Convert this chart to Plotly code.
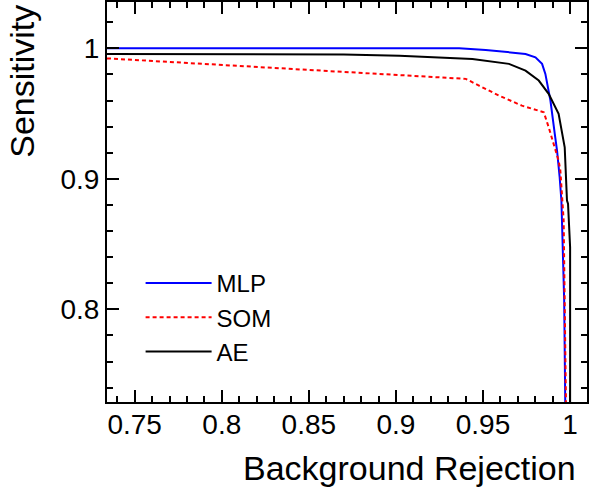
import plotly.graph_objects as go

# ---- data ----
mlp_x = [0.7341, 0.9363, 0.9515, 0.9649, 0.9744, 0.9801, 0.9839, 0.9858, 0.9873,
         0.9887, 0.9912, 0.9925, 0.9940, 0.9950, 0.9955, 0.9966, 0.9972, 0.9974]
mlp_y = [1.0000, 1.0000, 0.9988, 0.9969, 0.9957, 0.9931, 0.9881, 0.9804, 0.9701,
         0.9600, 0.9345, 0.9217, 0.9012, 0.8834, 0.8600, 0.8070, 0.7300, 0.7000]

som_x = [0.7341, 0.9020, 0.9401, 0.9477, 0.9592, 0.9723, 0.9849, 0.9877, 0.9906,
         0.9934, 0.9944, 0.9963, 0.9976, 0.9978]
som_y = [0.9923, 0.9799, 0.9766, 0.9714, 0.9638, 0.9561, 0.9510, 0.9395, 0.9268,
         0.9140, 0.9063, 0.8680, 0.7300, 0.7000]

ae_x = [0.7341, 0.8700, 0.9020, 0.9439, 0.9649, 0.9744, 0.9820, 0.9877, 0.9934,
        0.9969, 0.9982, 0.9988, 1.0000, 1.0000]
ae_y = [0.9957, 0.9952, 0.9944, 0.9919, 0.9881, 0.9829, 0.9753, 0.9651, 0.9498,
        0.9242, 0.8834, 0.8810, 0.8476, 0.7000]

x_ticks = [0.75, 0.8, 0.85, 0.9, 0.95, 1.0]
x_tick_labels = ["0.75", "0.8", "0.85", "0.9", "0.95", "1"]
y_ticks = [0.8, 0.9, 1.0]
y_tick_labels = ["0.8", "0.9", "1"]

FONT = "Liberation Sans, Arial, Helvetica, sans-serif"

fig = go.Figure()
fig.add_trace(go.Scatter(x=mlp_x, y=mlp_y, mode="lines", name="MLP",
                         line=dict(color="#0000ff", width=2)))
fig.add_trace(go.Scatter(x=som_x, y=som_y, mode="lines", name="SOM",
                         line=dict(color="#ff0000", width=2, dash="4px,3px")))
fig.add_trace(go.Scatter(x=ae_x, y=ae_y, mode="lines", name="AE",
                         line=dict(color="#000000", width=2)))

axis_common = dict(
    automargin=False,
    showgrid=False, zeroline=False, showline=True, linecolor="black", linewidth=2,
    mirror="ticks", ticks="inside", ticklen=12, tickwidth=2, tickcolor="black",
    tickfont=dict(family=FONT, size=28, color="black"),
)

fig.update_xaxes(range=[0.7341, 1.0097], tickvals=x_ticks, ticktext=x_tick_labels,
                 ticklabelstandoff=-4,
                 minor=dict(dtick=0.01, ticks="inside", ticklen=6, tickwidth=2,
                            tickcolor="black", showgrid=False),
                 **axis_common)
fig.update_yaxes(range=[0.7290, 1.0355], tickvals=y_ticks, ticktext=y_tick_labels,
                 minor=dict(dtick=0.02, ticks="inside", ticklen=6, tickwidth=2,
                            tickcolor="black", showgrid=False),
                 **axis_common)

fig.update_layout(
    template="none",
    width=590, height=495,
    margin=dict(l=107, r=3, t=2, b=93, pad=0, autoexpand=False),
    paper_bgcolor="white", plot_bgcolor="white",
    font=dict(family=FONT, color="black"),
    showlegend=True,
    legend=dict(x=0.07, y=0.3525, xanchor="left", yanchor="top",
                bgcolor="rgba(0,0,0,0)", borderwidth=0,
                font=dict(family=FONT, size=24, color="black"),
                itemwidth=66, tracegroupgap=0),
    annotations=[
        dict(text="Background Rejection", xref="paper", yref="paper",
             x=0.981, y=-0.165, xanchor="right", yanchor="middle", showarrow=False,
             font=dict(family=FONT, size=34, color="black")),
        dict(text="Sensitivity", xref="paper", yref="paper",
             x=-0.177, y=0.997, xanchor="center", yanchor="top", textangle=-90,
             showarrow=False, font=dict(family=FONT, size=34, color="black")),
    ],
)

fig.write_html("out.html", config={"displayModeBar": False},
               post_script="document.body.style.margin='0';document.body.style.padding='0';")
